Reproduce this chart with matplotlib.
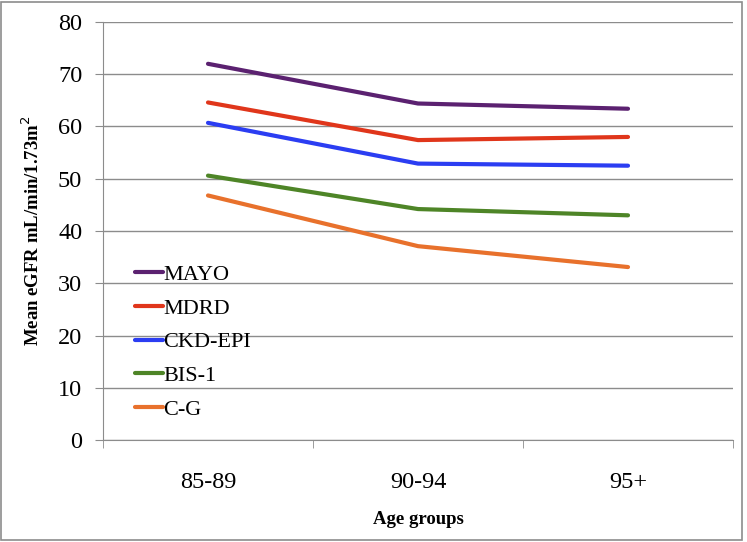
import matplotlib.pyplot as plt
from matplotlib.patches import Rectangle

# data
age_groups = ["85-89", "90-94", "95+"]
mayo = [72.0, 64.4, 63.4]
mdrd = [64.6, 57.4, 58.0]
ckd_epi = [60.7, 52.9, 52.5]
bis1 = [50.6, 44.2, 43.0]
cg = [46.8, 37.1, 33.1]

series = [("MAYO", mayo, "#5B2170"),
          ("MDRD", mdrd, "#E0361B"),
          ("CKD-EPI", ckd_epi, "#2B3DF2"),
          ("BIS-1", bis1, "#4E8527"),
          ("C-G", cg, "#E8712C")]

plt.rcParams['font.family'] = ['Liberation Serif', 'DejaVu Serif']
grey = "#8c8c8c"

fig = plt.figure(figsize=(7.47, 5.42), dpi=100)
ax = fig.add_axes([103/747, 1 - 440/542, 630/747, 418/542])

x = list(range(len(age_groups)))
for name, vals, col in series:
    ax.plot(x, vals, color=col, lw=3, label=name, solid_capstyle='round')

ax.set_ylim(0, 80)
ax.set_yticks(range(0, 81, 10))
ax.set_xlim(-0.5, len(age_groups) - 0.5)
ax.set_xticks(x)
ax.set_xticklabels(age_groups)
ax.set_xticks([i - 0.5 for i in range(len(age_groups) + 1)], minor=True)
ax.tick_params(axis='x', which='major', length=0, pad=23, labelsize=17.5)
ax.tick_params(axis='x', which='minor', length=6, color=grey, direction='out')
ax.tick_params(axis='y', length=6, color=grey, labelsize=17.5, pad=9)
ax.yaxis.grid(True, color=grey, lw=1)
ax.set_axisbelow(True)

for s in ["top", "right"]:
    ax.spines[s].set_visible(False)
for s in ["left", "bottom"]:
    ax.spines[s].set_color(grey)

ax.set_xlabel("Age groups", fontsize=13.5, fontweight='bold', labelpad=13)
ax.set_ylabel("Mean eGFR mL/min/1.73m$^2$", fontsize=13.5, fontweight='bold', labelpad=11)

ax.legend(loc='upper left', bbox_to_anchor=(0.051, 0.42), frameon=False,
          fontsize=16, handlelength=1.25, handletextpad=0.0,
          labelspacing=0.59, borderpad=0, borderaxespad=0)

fig.patches.append(Rectangle((0.002, 0.004), 0.991, 0.993, transform=fig.transFigure,
                             fill=False, edgecolor=grey, lw=1.2))

fig.savefig("out.png", dpi=100)
